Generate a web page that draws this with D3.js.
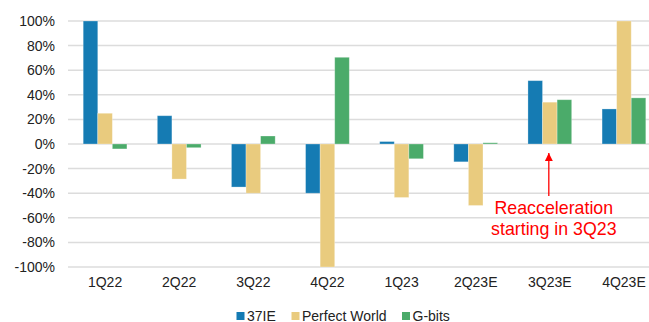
<!DOCTYPE html>
<html>
<head>
<meta charset="utf-8">
<script src="https://cdn.jsdelivr.net/npm/d3@7"></script>
<style>
  body { margin: 0; background: #fff; }
  svg text { font-family: "Liberation Sans", Arial, sans-serif; }
</style>
</head>
<body>
<svg width="649" height="322"></svg>
<script>
// quarters and yoy growth (%) per company
var quarters = ["1Q22", "2Q22", "3Q22", "4Q22", "1Q23", "2Q23E", "3Q23E", "4Q23E"];
var seriesNames = ["37IE", "Perfect World", "G-bits"];
var ie37 = [100, 23, -35, -40, 2, -14.5, 51.5, 28.5];
var perfectWorld = [25, -28.5, -40, -100, -43.5, -50, 34, 100];
var gbits = [-4, -3, 6.5, 70.5, -12, 1, 36, 37.5];
var yTicks = [-100, -80, -60, -40, -20, 0, 20, 40, 60, 80, 100];
var colors = ["#157bb3", "#e9cb7e", "#4bab6a"];

var svg = d3.select("svg");
var allSeries = [ie37, perfectWorld, gbits];

// plot runs a bit past the right edge of the picture
var x = d3.scaleBand().domain(quarters).range([68, 661]).paddingInner(0.41).paddingOuter(0.205);
var xs = d3.scaleBand().domain(seriesNames).range([0, x.bandwidth()]);
var y = d3.scaleLinear().domain([-100, 100]).range([267, 21]);

// gridlines
svg.append("g").selectAll("line")
    .data(yTicks)
    .enter().append("line")
    .attr("x1", 68).attr("x2", 649)
    .attr("y1", function(d) { return y(d); })
    .attr("y2", function(d) { return y(d); })
    .attr("stroke", "#dcdcdc")
    .attr("stroke-width", 1.5);

// y axis labels
var yAxis = d3.axisLeft(y).tickValues(yTicks).tickSize(0).tickPadding(13)
    .tickFormat(function(d) { return d + "%"; });
var yg = svg.append("g").attr("transform", "translate(68,0)").call(yAxis);
yg.select(".domain").remove();
yg.selectAll("text").attr("font-size", 14).attr("fill", "#222");

// x axis labels
var xAxis = d3.axisBottom(x).tickSize(0).tickPadding(0);
var xg = svg.append("g").attr("transform", "translate(0,276)").call(xAxis);
xg.select(".domain").remove();
xg.selectAll("text").attr("font-size", 14).attr("fill", "#222").attr("dy", "0.8em");

// bars
allSeries.forEach(function(vals, s) {
    svg.append("g").selectAll("rect")
        .data(vals)
        .enter().append("rect")
        .attr("x", function(d, i) { return x(quarters[i]) + xs(seriesNames[s]); })
        .attr("width", xs.bandwidth())
        .attr("y", function(d) { return y(Math.max(0, d)); })
        .attr("height", function(d) { return Math.abs(y(d) - y(0)); })
        .attr("fill", colors[s])
        .attr("stroke", "rgba(255,255,255,0.35)")
        .attr("stroke-width", 0.8);
});

// annotation
var ax = x("3Q23E") + x.bandwidth() / 2 - 1;
svg.append("defs").append("marker")
    .attr("id", "head")
    .attr("viewBox", "0 0 10 10")
    .attr("refX", 10).attr("refY", 5)
    .attr("markerWidth", 10).attr("markerHeight", 8)
    .attr("markerUnits", "userSpaceOnUse")
    .attr("orient", "auto")
    .append("path").attr("d", "M0,0L10,5L0,10Z").attr("fill", "#ff0000");
svg.append("line")
    .attr("x1", ax).attr("x2", ax)
    .attr("y1", 196).attr("y2", 153)
    .attr("stroke", "#ff0000").attr("stroke-width", 1.3)
    .attr("marker-end", "url(#head)");
var note = svg.append("g").attr("font-size", 17.8).attr("fill", "#ff0000").attr("text-anchor", "middle");
note.append("text").attr("x", ax + 5).attr("y", 214).text("Reacceleration");
note.append("text").attr("x", ax + 5).attr("y", 235).text("starting in 3Q23");

// legend
var legendX = [236.5, 291.5, 402];
var legend = svg.append("g").selectAll("g")
    .data(seriesNames)
    .enter().append("g")
    .attr("transform", function(d, i) { return "translate(" + legendX[i] + ",312)"; });
legend.append("rect").attr("width", 8).attr("height", 8)
    .attr("fill", function(d, i) { return colors[i]; });
legend.append("text").attr("x", 10.5).attr("y", 8.5)
    .attr("font-size", 14).attr("fill", "#222")
    .text(function(d) { return d; });
</script>
</body>
</html>
